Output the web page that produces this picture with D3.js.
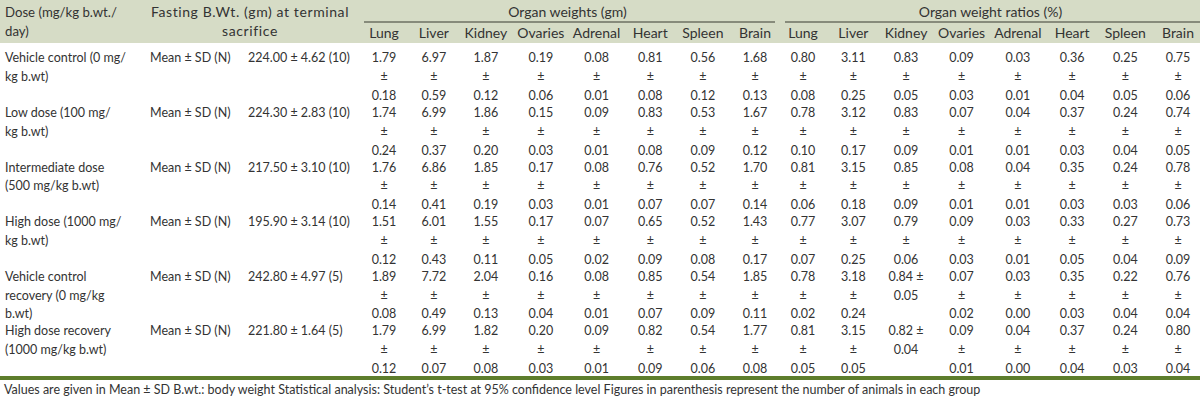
<!DOCTYPE html>
<html>
<head>
<meta charset="utf-8">
<script src="https://cdn.jsdelivr.net/npm/d3@7"></script>
<style>
  html, body { margin: 0; padding: 0; background: #ffffff; }
  svg { display: block; }
  text { font-family: Lato, "Noto Sans", sans-serif; fill: #333333; }
</style>
</head>
<body>
<svg id="chart" width="1200" height="400"></svg>
<script>
// ---------------- DATA ----------------
const doseLabels = [
  ["Vehicle control (0 mg/", "kg b.wt)"],
  ["Low dose (100 mg/", "kg b.wt)"],
  ["Intermediate dose", "(500 mg/kg b.wt)"],
  ["High dose (1000 mg/", "kg b.wt)"],
  ["Vehicle control", "recovery (0 mg/kg", "b.wt)"],
  ["High dose recovery", "(1000 mg/kg b.wt)"]
];
const statLabel = "Mean ± SD (N)";
const fastingMean = ["224.00", "224.30", "217.50", "195.90", "242.80", "221.80"];
const fastingSD   = ["4.62", "2.83", "3.10", "3.14", "4.97", "1.64"];
const fastingN    = ["10", "10", "10", "10", "5", "5"];

const organs = ["Lung", "Liver", "Kidney", "Ovaries", "Adrenal", "Heart", "Spleen", "Brain"];

const weightMean = [
  ["1.79", "6.97", "1.87", "0.19", "0.08", "0.81", "0.56", "1.68"],
  ["1.74", "6.99", "1.86", "0.15", "0.09", "0.83", "0.53", "1.67"],
  ["1.76", "6.86", "1.85", "0.17", "0.08", "0.76", "0.52", "1.70"],
  ["1.51", "6.01", "1.55", "0.17", "0.07", "0.65", "0.52", "1.43"],
  ["1.89", "7.72", "2.04", "0.16", "0.08", "0.85", "0.54", "1.85"],
  ["1.79", "6.99", "1.82", "0.20", "0.09", "0.82", "0.54", "1.77"]
];
const weightSD = [
  ["0.18", "0.59", "0.12", "0.06", "0.01", "0.08", "0.12", "0.13"],
  ["0.24", "0.37", "0.20", "0.03", "0.01", "0.08", "0.09", "0.12"],
  ["0.14", "0.41", "0.19", "0.03", "0.01", "0.07", "0.07", "0.14"],
  ["0.12", "0.43", "0.11", "0.05", "0.02", "0.09", "0.08", "0.17"],
  ["0.08", "0.49", "0.13", "0.04", "0.01", "0.07", "0.09", "0.11"],
  ["0.12", "0.07", "0.08", "0.03", "0.01", "0.09", "0.06", "0.08"]
];
const ratioMean = [
  ["0.80", "3.11", "0.83", "0.09", "0.03", "0.36", "0.25", "0.75"],
  ["0.78", "3.12", "0.83", "0.07", "0.04", "0.37", "0.24", "0.74"],
  ["0.81", "3.15", "0.85", "0.08", "0.04", "0.35", "0.24", "0.78"],
  ["0.77", "3.07", "0.79", "0.09", "0.03", "0.33", "0.27", "0.73"],
  ["0.78", "3.18", "0.84", "0.07", "0.03", "0.35", "0.22", "0.76"],
  ["0.81", "3.15", "0.82", "0.09", "0.04", "0.37", "0.24", "0.80"]
];
const ratioSD = [
  ["0.08", "0.25", "0.05", "0.03", "0.01", "0.04", "0.05", "0.06"],
  ["0.10", "0.17", "0.09", "0.01", "0.01", "0.03", "0.04", "0.05"],
  ["0.06", "0.18", "0.09", "0.01", "0.01", "0.03", "0.03", "0.06"],
  ["0.07", "0.25", "0.06", "0.03", "0.01", "0.05", "0.04", "0.09"],
  ["0.02", "0.24", "0.05", "0.02", "0.00", "0.03", "0.04", "0.04"],
  ["0.05", "0.05", "0.04", "0.01", "0.00", "0.04", "0.03", "0.04"]
];
// cells printed as "mean ±" / "sd" instead of "mean" / "±" / "sd"
const compactRatioCells = ["4-Kidney", "5-Kidney"];

const headerDose = ["Dose (mg/kg b.wt./", "day)"];
const headerFasting = ["Fasting B.Wt. (gm) at terminal", "sacrifice"];
const groupTitles = ["Organ weights (gm)", "Organ weight ratios (%)"];
const footnote = "Values are given in Mean ± SD B.wt.: body weight Statistical analysis: Student’s t-test at 95% confidence level Figures in parenthesis represent the number of animals in each group";

// ---------------- LAYOUT ----------------
const W = 1200, H = 400;
const svg = d3.select("#chart");
const fs = 12.5;
const hdrFs = 14;

const rowIdx = d3.range(doseLabels.length);
const y = d3.scalePoint().domain(rowIdx).range([58, 331]);

// column centres: table-like layout, partly driven by header text width, mostly uniform
const measure = svg.append("text").attr("font-size", hdrFs).attr("opacity", 0);
const hdrW = organs.map(o => { measure.text(o); return measure.node().getComputedTextLength() || 36; });
measure.remove();
const rawSteps = d3.range(organs.length - 1).map(i => (hdrW[i] + hdrW[i + 1]) / 2);
const meanStep = d3.mean(rawSteps);
const widthWeight = 0.25;
const blended = rawSteps.map(s => widthWeight * s + (1 - widthWeight) * meanStep);
const cum = [0, ...Array.from(d3.cumsum(blended))];
function colScale(r0, r1) {
  const lin = d3.scaleLinear().domain([0, cum[cum.length - 1]]).range([r0, r1]);
  const m = new Map(organs.map((o, i) => [o, lin(cum[i])]));
  return o => m.get(o);
}
const xW = colScale(384, 755);
const xR = colScale(803, 1178);

// header band
svg.append("rect").attr("x", 0).attr("y", 0).attr("width", W).attr("height", 43)
  .attr("fill", "#d6dcc6");

const hdrY1 = 12, hdrY2 = 33;
const g = svg.append("g").attr("font-size", fs);

function addLines(sel, lines, x, y0, anchor, step = 18.8) {
  lines.forEach((t, i) => {
    sel.append("text").attr("x", x).attr("y", y0 + i * step)
      .attr("dy", "0.35em").attr("text-anchor", anchor).text(t);
  });
}
const hg = g.append("g");
addLines(hg.append("g").attr("font-size", 13.2), headerDose, 5, hdrY1, "start", 19.5);
addLines(hg.append("g").attr("font-size", 14).attr("letter-spacing", 0.6),
  headerFasting, 250, hdrY1, "middle", 19.5);

// group titles + underlines
const groups = [
  { title: groupTitles[0], scale: xW, x0: 364, x1: 775 },
  { title: groupTitles[1], scale: xR, x0: 785, x1: 1200 }
];
const og = hg.append("g").attr("font-size", hdrFs);
groups.forEach(gr => {
  og.append("text").attr("x", (gr.x0 + gr.x1) / 2 - 2).attr("y", hdrY1).attr("dy", "0.35em")
    .attr("text-anchor", "middle").text(gr.title);
  svg.append("line").attr("x1", gr.x0).attr("x2", gr.x1).attr("y1", 22).attr("y2", 22)
    .attr("stroke", "#6d7062").attr("stroke-width", 1.6);
  organs.forEach(o => {
    og.append("text").attr("x", gr.scale(o)).attr("y", hdrY2).attr("dy", "0.35em")
      .attr("text-anchor", "middle").text(o);
  });
});

// body rows
rowIdx.forEach(r => {
  const ry = y(r);
  const rg = g.append("g");
  addLines(rg, doseLabels[r], 5, ry, "start");
  rg.append("text").attr("x", 150).attr("y", ry).attr("dy", "0.35em").text(statLabel);
  rg.append("text").attr("x", 248).attr("y", ry).attr("dy", "0.35em")
    .text(`${fastingMean[r]} ± ${fastingSD[r]} (${fastingN[r]})`);

  organs.forEach((o, c) => {
    addLines(rg, [weightMean[r][c], "±", weightSD[r][c]], xW(o), ry, "middle");
    const compact = compactRatioCells.includes(`${r}-${o}`);
    const lines = compact ? [ratioMean[r][c] + " ±", ratioSD[r][c]]
                          : [ratioMean[r][c], "±", ratioSD[r][c]];
    addLines(rg, lines, xR(o), ry, "middle");
  });
});

// bottom rule and footnote
svg.append("rect").attr("x", 0).attr("y", 376).attr("width", W).attr("height", 4)
  .attr("fill", "#5d7d2c");
g.append("text").attr("x", 4).attr("y", 390).attr("dy", "0.35em").text(footnote);
</script>
</body>
</html>
